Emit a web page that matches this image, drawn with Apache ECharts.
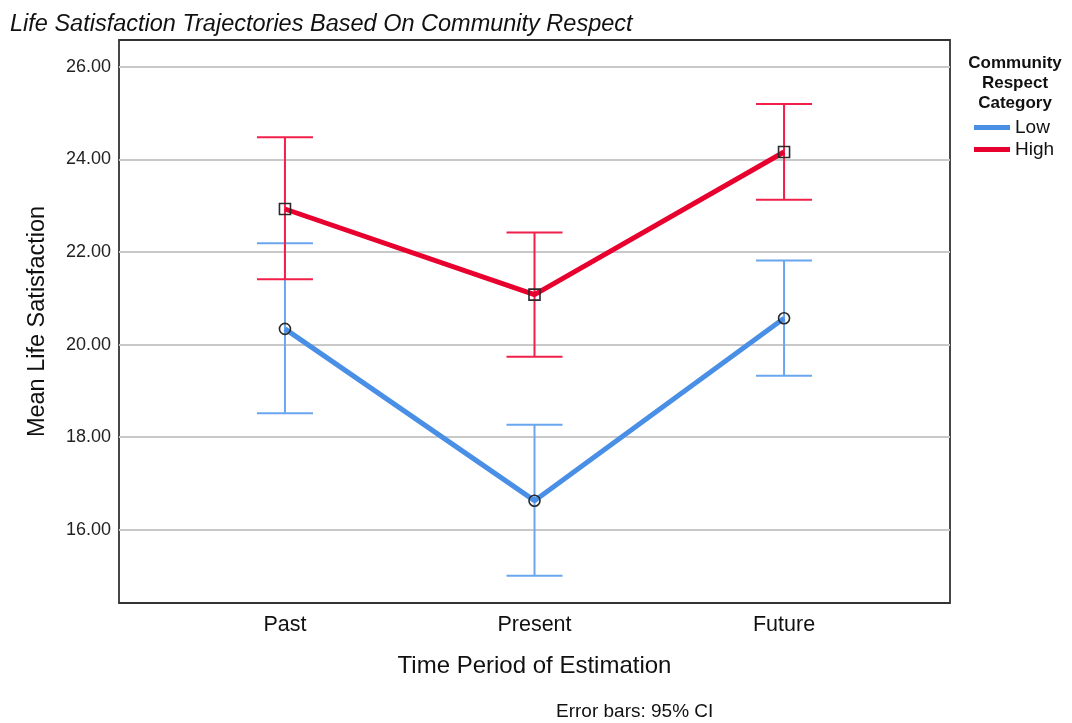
<!DOCTYPE html>
<html>
<head>
<meta charset="utf-8">
<script src="https://cdn.jsdelivr.net/npm/echarts@6/dist/echarts.min.js"></script>
<style>
  html, body { margin: 0; padding: 0; background: #fff; }
  #chart { width: 1072px; height: 723px; }
</style>
</head>
<body>
<div id="chart"></div>
<script>
// Time periods (x positions 1..3 on the value axis)
const categories = ['Past', 'Present', 'Future'];
const periodPos = [1, 2, 3];

// Mean life satisfaction with 95% CI bounds
const lowMean  = [20.34, 16.63, 20.57];
const lowLower = [18.52, 15.01, 19.33];
const lowUpper = [22.19, 18.27, 21.82];

const highMean  = [22.93, 21.08, 24.16];
const highLower = [21.41, 19.74, 23.13];
const highUpper = [24.48, 22.42, 25.20];

const yTicks = [16, 18, 20, 22, 24, 26];

const LOW_LINE = '#4a8fe6';
const LOW_BAR = '#6aa6ee';
const HIGH_LINE = '#e8002e';
const HIGH_BAR = '#f0204a';
const FONT = '"Liberation Sans", Arial, sans-serif';

function pairs(xs, ys) { return xs.map((x, i) => [x, ys[i]]); }
function ciRows(xs, lo, hi) { return xs.map((x, i) => [x, lo[i], hi[i]]); }

// Renders an I-beam error bar from [x, lower, upper]
function errorBar(color) {
  return function (params, api) {
    const x = api.value(0);
    const p0 = api.coord([x, api.value(1)]);
    const p1 = api.coord([x, api.value(2)]);
    const half = 28;
    const style = { stroke: color, lineWidth: 2, fill: null };
    return {
      type: 'group',
      children: [
        { type: 'line', shape: { x1: p0[0], y1: p0[1], x2: p1[0], y2: p1[1] }, style },
        { type: 'line', shape: { x1: p0[0] - half, y1: p0[1], x2: p0[0] + half, y2: p0[1] }, style },
        { type: 'line', shape: { x1: p1[0] - half, y1: p1[1], x2: p1[0] + half, y2: p1[1] }, style }
      ]
    };
  };
}

const chart = echarts.init(document.getElementById('chart'), null, { renderer: 'canvas' });

chart.setOption({
  backgroundColor: '#ffffff',
  animation: false,
  textStyle: { fontFamily: FONT },
  title: [
    {
      text: 'Life Satisfaction Trajectories Based On Community Respect',
      left: 5, top: 8,
      textStyle: { fontFamily: FONT, fontSize: 23.5, fontStyle: 'italic', fontWeight: 'normal', color: '#111' }
    },
    {
      text: 'Community\nRespect\nCategory',
      left: 1010, top: 48, textAlign: 'center',
      textStyle: { fontFamily: FONT, fontSize: 17, fontWeight: 'bold', color: '#111', lineHeight: 20 }
    }
  ],
  legend: {
    data: [
      { name: 'Low', itemStyle: { color: LOW_LINE, borderWidth: 0 } },
      { name: 'High', itemStyle: { color: HIGH_LINE, borderWidth: 0 } }
    ],
    orient: 'vertical',
    left: 969, top: 113,
    icon: 'rect',
    itemWidth: 36, itemHeight: 5,
    itemGap: 3,
    textStyle: { fontFamily: FONT, fontSize: 19, color: '#111' }
  },
  grid: {
    left: 119, right: 122, top: 40, bottom: 120,
    show: true, borderColor: '#333333', borderWidth: 1.8,
    containLabel: false
  },
  xAxis: {
    type: 'value',
    min: 0.335, max: 3.665,
    axisLine: { show: false },
    axisTick: { show: false },
    splitLine: { show: false },
    axisLabel: {
      customValues: periodPos,
      formatter: v => categories[Math.round(v) - 1] || '',
      fontFamily: FONT, fontSize: 21.5, color: '#111', margin: 11
    },
    name: 'Time Period of Estimation',
    nameLocation: 'middle',
    nameGap: 51,
    nameTextStyle: { fontFamily: FONT, fontSize: 24, color: '#111' }
  },
  yAxis: {
    type: 'value',
    min: 14.42, max: 26.58,
    axisLine: { show: false },
    axisTick: { show: false, customValues: yTicks },
    splitLine: { show: true, lineStyle: { color: '#c8c8c8', width: 2 } },
    axisLabel: {
      customValues: yTicks,
      formatter: v => v.toFixed(2),
      fontFamily: FONT, fontSize: 18, color: '#222', margin: 8
    },
    name: 'Mean Life Satisfaction',
    nameLocation: 'middle',
    nameRotate: 90,
    nameGap: 69,
    nameTextStyle: { fontFamily: FONT, fontSize: 23.5, color: '#111' }
  },
  graphic: [
    {
      type: 'text', left: 556, top: 702,
      style: { text: 'Error bars: 95% CI', font: '19px ' + FONT, fill: '#111' }
    }
  ],
  series: [
    {
      name: 'Low CI', type: 'custom',
      renderItem: errorBar(LOW_BAR),
      data: ciRows(periodPos, lowLower, lowUpper),
      encode: { x: 0, y: [1, 2] }, z: 2
    },
    {
      name: 'High CI', type: 'custom',
      renderItem: errorBar(HIGH_BAR),
      data: ciRows(periodPos, highLower, highUpper),
      encode: { x: 0, y: [1, 2] }, z: 2
    },
    {
      name: 'Low', type: 'line',
      data: pairs(periodPos, lowMean),
      lineStyle: { color: LOW_LINE, width: 5 },
      itemStyle: { color: 'rgba(0,0,0,0)', borderColor: '#2a2a2a', borderWidth: 1.6 },
      color: LOW_LINE,
      symbol: 'circle', symbolSize: 11, showSymbol: true, z: 3
    },
    {
      name: 'High', type: 'line',
      data: pairs(periodPos, highMean),
      lineStyle: { color: HIGH_LINE, width: 5 },
      itemStyle: { color: 'rgba(0,0,0,0)', borderColor: '#2a2a2a', borderWidth: 1.6 },
      color: HIGH_LINE,
      symbol: 'rect', symbolSize: 11, showSymbol: true, z: 3
    }
  ]
});
</script>
</body>
</html>
